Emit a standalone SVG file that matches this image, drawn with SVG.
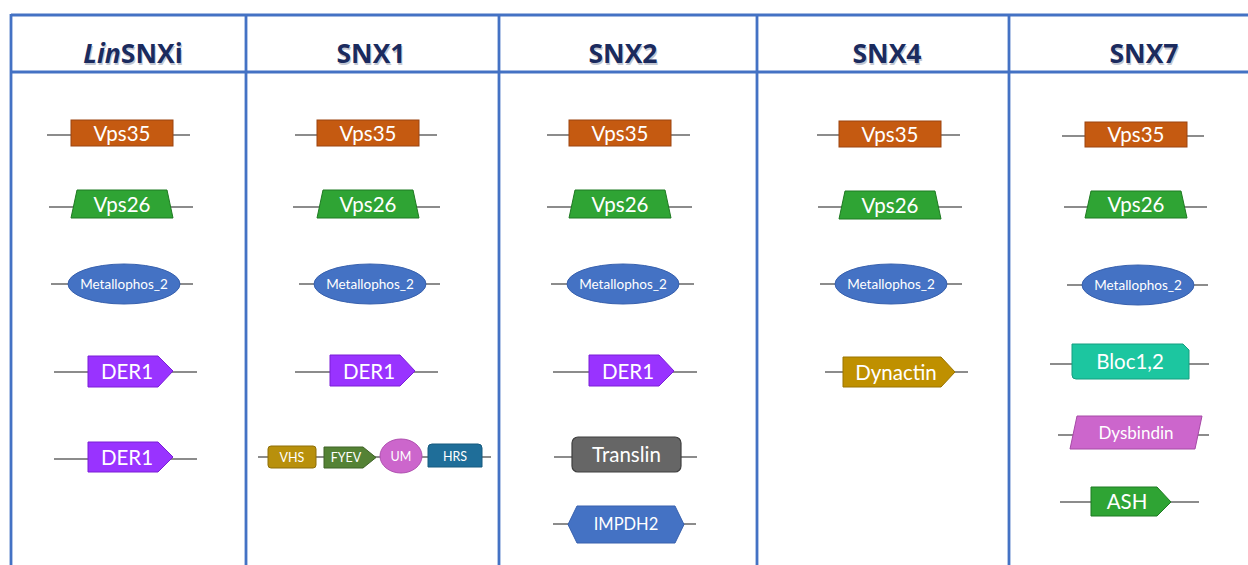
<svg xmlns="http://www.w3.org/2000/svg" width="1248" height="565" viewBox="0 0 1248 565">
<defs>
<style>
.grid{stroke:#4472C4;stroke-width:2.8;fill:none}
.hdr{font-family:"Open Sans","Liberation Sans",sans-serif;font-weight:700;font-size:26.5px;fill:#1B2B5E;text-anchor:middle}
.hsh{font-family:"Open Sans","Liberation Sans",sans-serif;font-weight:700;font-size:26.5px;fill:#9AA3B5;text-anchor:middle;opacity:0.6}
.ln{stroke:#8C8C8C;stroke-width:2;fill:none}
.t{font-family:Lato,"Open Sans",sans-serif;fill:#FFFFFF;text-anchor:middle;font-size:20.5px}
.ts{font-family:Lato,"Open Sans",sans-serif;fill:#FFFFFF;text-anchor:middle;font-size:13.5px}
.tx{font-family:Lato,"Open Sans",sans-serif;fill:#FFFFFF;text-anchor:middle;font-size:12.5px}
.vps35{fill:#C55A11;stroke:#9C4510;stroke-width:1}
.vps26{fill:#2FA434;stroke:#1F7A22;stroke-width:1}
.met{fill:#4472C4;stroke:#3861AE;stroke-width:1}
.der{fill:#9933FF;stroke:#7A1FD6;stroke-width:1}
</style>
</defs>
<rect x="0" y="0" width="1248" height="565" fill="#FFFFFF"/>
<g id="table">
<line class="grid" x1="11" y1="15" x2="1250" y2="15"/>
<line class="grid" x1="11" y1="72" x2="1250" y2="72"/>
<line class="grid" x1="11" y1="14" x2="11" y2="566"/>
<line class="grid" x1="246" y1="14" x2="246" y2="566"/>
<line class="grid" x1="499" y1="14" x2="499" y2="566"/>
<line class="grid" x1="757" y1="14" x2="757" y2="566"/>
<line class="grid" x1="1009" y1="14" x2="1009" y2="566"/>
</g>
<g id="headers">
<text class="hsh" x="134" y="64.5"><tspan font-style="italic">Lin</tspan>SNXi</text>
<text class="hdr" x="133" y="63"><tspan font-style="italic">Lin</tspan>SNXi</text>
<text class="hsh" x="372" y="64.5">SNX1</text>
<text class="hdr" x="371" y="63">SNX1</text>
<text class="hsh" x="624" y="64.5">SNX2</text>
<text class="hdr" x="623" y="63">SNX2</text>
<text class="hsh" x="888" y="64.5">SNX4</text>
<text class="hdr" x="887" y="63">SNX4</text>
<text class="hsh" x="1145" y="64.5">SNX7</text>
<text class="hdr" x="1144" y="63">SNX7</text>
</g>
<g id="connectors">
<line class="ln" x1="47" y1="135" x2="190" y2="135"/>
<line class="ln" x1="49" y1="207" x2="193" y2="207"/>
<line class="ln" x1="51" y1="284" x2="193" y2="284"/>
<line class="ln" x1="54" y1="372" x2="197" y2="372"/>
<line class="ln" x1="54" y1="459" x2="197" y2="459"/>
<line class="ln" x1="295" y1="135" x2="437" y2="135"/>
<line class="ln" x1="293" y1="207" x2="440" y2="207"/>
<line class="ln" x1="299" y1="284" x2="440" y2="284"/>
<line class="ln" x1="295" y1="372" x2="438" y2="372"/>
<line class="ln" x1="258" y1="457" x2="491" y2="457"/>
<line class="ln" x1="547" y1="135" x2="690" y2="135"/>
<line class="ln" x1="547" y1="207" x2="692" y2="207"/>
<line class="ln" x1="551" y1="284" x2="694" y2="284"/>
<line class="ln" x1="553" y1="372" x2="697" y2="372"/>
<line class="ln" x1="554" y1="457" x2="697" y2="457"/>
<line class="ln" x1="553" y1="524" x2="696" y2="524"/>
<line class="ln" x1="817" y1="135" x2="960" y2="135"/>
<line class="ln" x1="818" y1="207" x2="962" y2="207"/>
<line class="ln" x1="820" y1="284" x2="962" y2="284"/>
<line class="ln" x1="825" y1="372" x2="968" y2="372"/>
<line class="ln" x1="1062" y1="136" x2="1204" y2="136"/>
<line class="ln" x1="1064" y1="207" x2="1207" y2="207"/>
<line class="ln" x1="1067" y1="285" x2="1208" y2="285"/>
<line class="ln" x1="1050" y1="364" x2="1209" y2="364"/>
<line class="ln" x1="1058" y1="435" x2="1209" y2="435"/>
<line class="ln" x1="1060" y1="502" x2="1199" y2="502"/>
</g>
<!-- Column 1 -->
<g id="c1-vps35"><rect class="vps35" x="71" y="120" width="102" height="26"/><text class="t" x="122" y="140.5">Vps35</text></g>
<g id="c1-vps26"><polygon class="vps26" points="77,190 167,190 173,218 71,218"/><text class="t" x="122" y="212">Vps26</text></g>
<g id="c1-met"><ellipse class="met" cx="124" cy="284" rx="56" ry="20"/><text class="ts" x="124" y="289">Metallophos_2</text></g>
<g id="c1-der1a"><polygon class="der" points="88,356 158,356 173,371 158,387 88,387"/><text class="t" x="127" y="378.5">DER1</text></g>
<g id="c1-der1b"><polygon class="der" points="88,442 158,442 173,457 158,472 88,472"/><text class="t" x="127" y="464.5">DER1</text></g>
<!-- Column 2 -->
<g id="c2-vps35"><rect class="vps35" x="317" y="120" width="102" height="26"/><text class="t" x="368" y="140.5">Vps35</text></g>
<g id="c2-vps26"><polygon class="vps26" points="323,190 413,190 419,218 317,218"/><text class="t" x="368" y="212">Vps26</text></g>
<g id="c2-met"><ellipse class="met" cx="370" cy="284" rx="56" ry="20"/><text class="ts" x="370" y="289">Metallophos_2</text></g>
<g id="c2-der1"><polygon class="der" points="330,355 400,355 415,371 400,386 330,386"/><text class="t" x="369" y="378.5">DER1</text></g>
<g id="c2-vhs"><rect x="268" y="446" width="48" height="22" rx="3" fill="#B8900C" stroke="#8E6F08"/><text class="tx" x="292" y="461.5">VHS</text></g>
<g id="c2-fyev"><polygon points="324,447 363,447 376,457.5 363,468 324,468" fill="#548235" stroke="#3E6227"/><text class="tx" x="346" y="461.5">FYEV</text></g>
<g id="c2-um"><ellipse cx="401" cy="456" rx="21" ry="17" fill="#CC66CC" stroke="#B050B0"/><text class="tx" x="401" y="460.5">UM</text></g>
<g id="c2-hrs"><path d="M428,467 L428,448 Q428,444 432,444 L478,444 Q482,444 482,448 L482,467 Z" fill="#1F6E99" stroke="#175A7E"/><text class="tx" x="455" y="460.5">HRS</text></g>
<!-- Column 3 -->
<g id="c3-vps35"><rect class="vps35" x="569" y="120" width="102" height="26"/><text class="t" x="620" y="140.5">Vps35</text></g>
<g id="c3-vps26"><polygon class="vps26" points="575,190 665,190 671,218 569,218"/><text class="t" x="620" y="212">Vps26</text></g>
<g id="c3-met"><ellipse class="met" cx="623" cy="284" rx="56" ry="20"/><text class="ts" x="623" y="289">Metallophos_2</text></g>
<g id="c3-der1"><polygon class="der" points="589,355 659,355 674,371 659,386 589,386"/><text class="t" x="628" y="378.5">DER1</text></g>
<g id="c3-translin"><rect x="572" y="437" width="109" height="35" rx="6" fill="#666666" stroke="#3F3F3F" stroke-width="1.2"/><text class="t" x="626.5" y="462">Translin</text></g>
<g id="c3-impdh2"><polygon points="577,506 675,506 684,524.5 675,543 577,543 568,524.5" fill="#4472C4" stroke="#3861AE"/><text class="ts" x="626" y="530" style="font-size:16.5px">IMPDH2</text></g>
<!-- Column 4 -->
<g id="c4-vps35"><rect class="vps35" x="839" y="121" width="102" height="26"/><text class="t" x="890" y="141.5">Vps35</text></g>
<g id="c4-vps26"><polygon class="vps26" points="845,191 935,191 941,219 839,219"/><text class="t" x="890" y="213">Vps26</text></g>
<g id="c4-met"><ellipse class="met" cx="891" cy="284" rx="56" ry="20"/><text class="ts" x="891" y="289">Metallophos_2</text></g>
<g id="c4-dynactin"><polygon points="843,357 941,357 955,372 941,387 843,387" fill="#BF9000" stroke="#9A7400"/><text class="t" x="896" y="379.5">Dynactin</text></g>
<!-- Column 5 -->
<g id="c5-vps35"><rect class="vps35" x="1085" y="122" width="102" height="25"/><text class="t" x="1136" y="142">Vps35</text></g>
<g id="c5-vps26"><polygon class="vps26" points="1091,191 1181,191 1187,218 1085,218"/><text class="t" x="1136" y="212">Vps26</text></g>
<g id="c5-met"><ellipse class="met" cx="1138" cy="285" rx="56" ry="20"/><text class="ts" x="1138" y="290">Metallophos_2</text></g>
<g id="c5-bloc"><path d="M1072,344 L1183,344 L1189,350 L1189,379 L1076,379 Q1072,379 1072,375 Z" fill="#1CC6A0" stroke="#159E80"/><text class="t" x="1130" y="369">Bloc1,2</text></g>
<g id="c5-dysbindin"><polygon points="1077,416 1202,416 1195,449 1070,449" fill="#CC66CC" stroke="#A64AA6"/><text class="t" x="1136" y="438.5" style="font-size:17px">Dysbindin</text></g>
<g id="c5-ash"><polygon points="1091,487 1157,487 1171,502 1157,516 1091,516" fill="#2FA434" stroke="#1F7A22"/><text class="t" x="1127" y="509">ASH</text></g>
</svg>
